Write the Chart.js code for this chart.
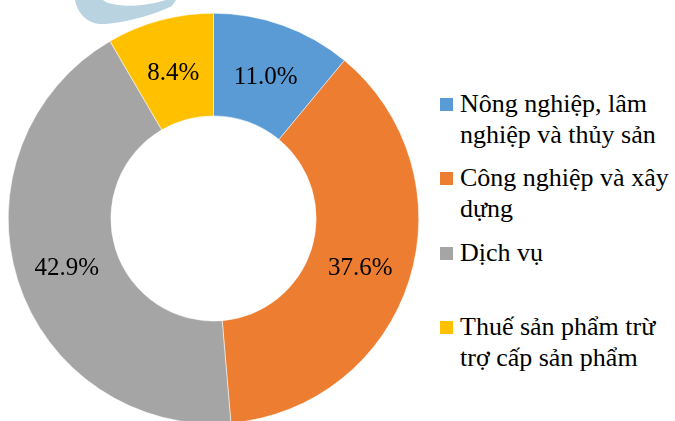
<!DOCTYPE html>
<html>
<head>
<meta charset="utf-8">
<script src="https://cdn.jsdelivr.net/npm/chart.js@4.4.1/dist/chart.umd.min.js"></script>
<style>
html,body{margin:0;padding:0;background:#fff;}
#wrap{position:absolute;left:0;top:0;width:430px;height:430px;}
</style>
</head>
<body>
<div id="wrap"><canvas id="c"></canvas></div>
<div id="labels" style="position:absolute;left:0;top:0;width:0;height:0;"></div>
<div id="legend" style="position:absolute;left:440px;top:88px;width:235px;"></div>
<script>
const categories = ["Nông nghiệp, lâm nghiệp và thủy sản", "Công nghiệp và xây dựng", "Dịch vụ", "Thuế sản phẩm trừ trợ cấp sản phẩm"];
const legendLines = [["Nông nghiệp, lâm", "nghiệp và thủy sản"], ["Công nghiệp và xây", "dựng"], ["Dịch vụ"], ["Thuế sản phẩm trừ", "trợ cấp sản phẩm"]];
const values = [11.0, 37.6, 42.9, 8.4];
const valueLabels = ["11.0%", "37.6%", "42.9%", "8.4%"];
const colors = ["#5B9BD5", "#ED7D31", "#A5A5A5", "#FFC000"];

Chart.defaults.font.family = "'Times New Roman'";

const watermark = {
  id: 'watermark',
  beforeDraw(chart) {
    const ctx = chart.ctx;
    ctx.save();
    ctx.fillStyle = '#bad3e0';
    ctx.beginPath();
    ctx.moveTo(75, 0);
    ctx.bezierCurveTo(78, 16, 90, 25, 105, 24);
    ctx.bezierCurveTo(130, 22, 155, 14, 172, 6);
    ctx.lineTo(176, 0);
    ctx.lineTo(166, 0);
    ctx.bezierCurveTo(150, 5, 130, 7, 118, 5);
    ctx.bezierCurveTo(110, 4, 105, 2, 103, 0);
    ctx.closePath();
    ctx.fill();
    ctx.restore();
  }
};

const htmlLabels = {
  id: 'htmlLabels',
  afterDraw(chart) {
    const box = document.getElementById('labels');
    box.innerHTML = '';
    chart.getDatasetMeta(0).data.forEach((arc, i) => {
      const p = arc.getCenterPoint();
      const d = document.createElement('div');
      d.setAttribute('style', "position:absolute;white-space:nowrap;line-height:25px;font-family:'Times New Roman';font-size:25px;color:#000;transform:translate(-50%,-50%);left:" + p.x + "px;top:" + (p.y + 1) + "px;");
      d.textContent = valueLabels[i];
      box.appendChild(d);
    });
  }
};

new Chart(document.getElementById('c'), {
  type: 'doughnut',
  data: {
    labels: categories,
    datasets: [{
      data: values,
      backgroundColor: colors,
      borderColor: '#ffffff',
      borderWidth: 0.5,
      hoverOffset: 0
    }]
  },
  options: {
    responsive: true,
    maintainAspectRatio: false,
    animation: false,
    cutout: '50%',
    layout: { padding: { left: 8, top: 13, right: 11, bottom: 6 } },
    plugins: { legend: { display: false }, tooltip: { enabled: false } }
  },
  plugins: [watermark, htmlLabels]
});

const lg = document.getElementById('legend');
legendLines.forEach((lines, i) => {
  const it = document.createElement('div');
  it.setAttribute('style', 'position:relative;height:74.4px;padding-left:20px;white-space:nowrap;');
  const sw = document.createElement('div');
  sw.setAttribute('style', 'position:absolute;left:0;top:10px;width:13px;height:13px;background:' + colors[i] + ';');
  it.appendChild(sw);
  lines.forEach(t => {
    const d = document.createElement('div');
    d.setAttribute('style', "font-family:'Times New Roman';font-size:26px;line-height:31px;color:#000;");
    d.textContent = t;
    it.appendChild(d);
  });
  lg.appendChild(it);
});
</script>
</body>
</html>
